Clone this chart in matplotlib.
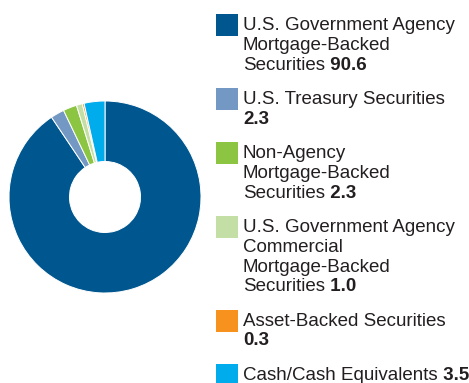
import matplotlib.pyplot as plt
from matplotlib.patches import Rectangle
from matplotlib.text import Annotation

# sector breakdown, percent of portfolio
labels = [
    "U.S. Government Agency\nMortgage-Backed\nSecurities",
    "U.S. Treasury Securities\n",
    "Non-Agency\nMortgage-Backed\nSecurities",
    "U.S. Government Agency\nCommercial\nMortgage-Backed\nSecurities",
    "Asset-Backed Securities\n",
    "Cash/Cash Equivalents",
]
values = [90.6, 2.3, 2.3, 1.0, 0.3, 3.5]
colors = ["#00568e", "#7398c3", "#8bc541", "#c4dfa6", "#f7921e", "#00acec"]

W, H = 469, 383
txt_color = "#231f20"
fs = 13.5

plt.rcParams['font.family'] = ['Liberation Sans', 'DejaVu Sans']

fig = plt.figure(figsize=(W / 100, H / 100), dpi=100)

def fx(x):
    return x / W

def fy(y):
    return 1 - y / H

# donut
cx, cy, r = 105, 197, 96
ax = fig.add_axes([fx(cx - r), fy(cy + r), 2 * r / W, 2 * r / H])
ax.pie(values, colors=colors, startangle=90, counterclock=False,
       wedgeprops=dict(width=0.63, edgecolor="white", linewidth=0.7))
ax.set_xlim(-1, 1)
ax.set_ylim(-1, 1)
ax.set_aspect("equal")
ax.axis("off")

# legend drawn by hand, value in bold after the label
pitch = 19.8
gap = 34.3
x_box, box = 216, 22
x_txt = 243
base = 30
for lab, val, col in zip(labels, values, colors):
    lines = lab.split("\n")
    fig.patches.append(Rectangle((fx(x_box), fy(base - 16 + box)), box / W, box / H,
                                 transform=fig.transFigure, facecolor=col,
                                 edgecolor="none"))
    for k, line in enumerate(lines):
        y = base + k * pitch
        t = None
        if line:
            t = fig.text(fx(x_txt), fy(y), line, fontsize=fs, color=txt_color,
                         va="baseline", ha="left")
        if k == len(lines) - 1:
            if t is not None:
                fig.add_artist(Annotation(" %.1f" % val, xy=(1, 0), xycoords=t,
                                          fontsize=fs, color=txt_color,
                                          fontweight="bold", va="bottom", ha="left"))
            else:
                fig.text(fx(x_txt), fy(y), "%.1f" % val, fontsize=fs,
                         color=txt_color, fontweight="bold", va="baseline",
                         ha="left")
    base += (len(lines) - 1) * pitch + gap

fig.savefig("out.png", dpi=100)
